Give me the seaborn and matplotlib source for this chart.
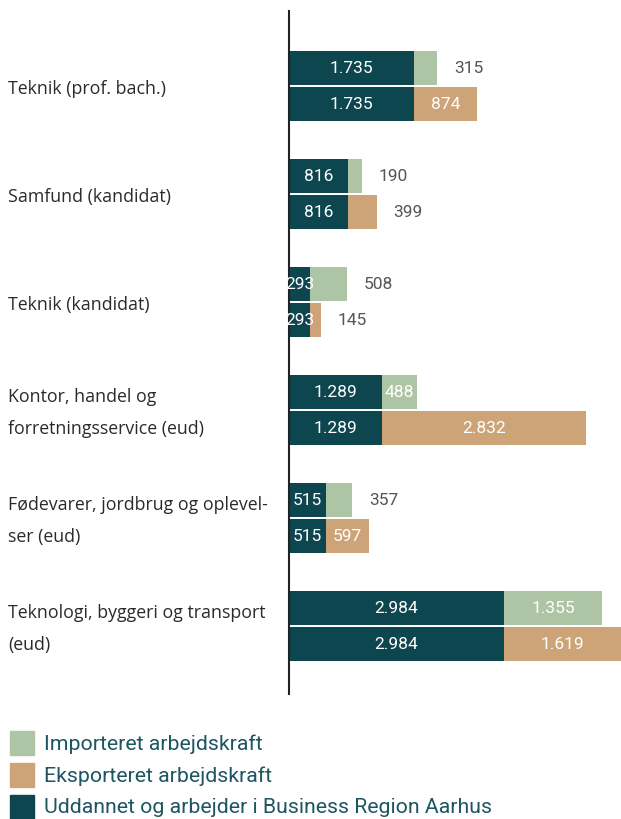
import numpy as np
import pandas as pd
import matplotlib
matplotlib.use("Agg")
import matplotlib.pyplot as plt
import matplotlib.transforms as mtransforms
from matplotlib.patches import Rectangle
import seaborn as sns

# Data
categories = [
    "Teknik (prof. bach.)",
    "Samfund (kandidat)",
    "Teknik (kandidat)",
    "Kontor, handel og\nforretningsservice (eud)",
    "Fødevarer, jordbrug og oplevel-\nser (eud)",
    "Teknologi, byggeri og transport\n(eud)",
]
uddannet = [1735, 816, 293, 1289, 515, 2984]
importeret = [315, 190, 508, 488, 357, 1355]
eksporteret = [874, 399, 145, 2832, 597, 1619]
# label inside the segment or to the right of it
imp_inside = [False, False, False, True, False, True]
eks_inside = [True, False, False, True, True, True]

TEAL = "#0e4650"
GREEN = "#adc5a5"
TAN = "#cda378"
LEGEND_TXT = "#1d5560"
GREY = "#555555"

def fmt(v):
    return f"{v:,}".replace(",", ".")

rows = []
for c, u, i, e in zip(categories, uddannet, importeret, eksporteret):
    rows.append({"kat": c, "serie": "imp", "total": u + i, "base": u})
    rows.append({"kat": c, "serie": "eks", "total": u + e, "base": u})
df = pd.DataFrame(rows)

sns.set_theme(style="white")
plt.rcParams["font.family"] = ["Roboto", "DejaVu Sans"]

fig = plt.figure(figsize=(6.21, 8.2), dpi=100)
ax = fig.add_axes([289 / 621, 1 - 695 / 820, 1 - 289 / 621, (695 - 12) / 820])

bw = 0.667
gp = 0.08
sns.barplot(data=df, y="kat", x="total", hue="serie", palette=[GREEN, TAN],
            order=categories, hue_order=["imp", "eks"], dodge=True,
            width=bw, gap=gp, ax=ax, legend=False, linewidth=0, orient="h",
            saturation=1)
sns.barplot(data=df, y="kat", x="base", hue="serie", palette=[TEAL, TEAL],
            order=categories, hue_order=["imp", "eks"], dodge=True,
            width=bw, gap=gp, ax=ax, legend=False, linewidth=0, orient="h",
            saturation=1)

ax.set_xlim(0, 4605)
ax.set_ylim(5.63, -0.694)
ax.set_xlabel("")
ax.set_ylabel("")
ax.set_xticks([])
ax.set_yticks([])
for s in ["top", "right", "bottom"]:
    ax.spines[s].set_visible(False)
ax.spines["left"].set_color("#222222")
ax.spines["left"].set_linewidth(1.5)

px = 4605 / (621 - 289)  # data units per pixel
fs = 12.5
off = bw / 4
for k in range(len(categories)):
    u = uddannet[k]
    for dy, val, inside in [(-off, importeret[k], imp_inside[k]),
                            (off, eksporteret[k], eks_inside[k])]:
        y = k + dy
        ax.text(u / 2, y, fmt(u), ha="center", va="center", color="white",
                fontsize=fs)
        if inside:
            ax.text(u + val / 2, y, fmt(val), ha="center", va="center",
                    color="white", fontsize=fs)
        else:
            ax.text(u + val + 17 * px, y, fmt(val), ha="left", va="center",
                    color=GREY, fontsize=fs)

# category labels, left aligned
trans = mtransforms.blended_transform_factory(fig.transFigure, ax.transData)
for k, c in enumerate(categories):
    ax.text(8 / 621, k + 0.02, c, transform=trans, ha="left", va="center",
            fontsize=12.8, color="#2a2a2a", linespacing=2.05,
            family=["Open Sans", "DejaVu Sans"])

# legend
leg = [("Importeret arbejdskraft", GREEN),
       ("Eksporteret arbejdskraft", TAN),
       ("Uddannet og arbejder i Business Region Aarhus", TEAL)]
for j, (lab, col) in enumerate(leg):
    yc = 744 + 32 * j
    fig.patches.append(Rectangle((10 / 621, 1 - (yc + 12) / 820), 24 / 621, 24 / 820,
                                 transform=fig.transFigure, color=col))
    fig.text(44 / 621, 1 - yc / 820, lab, ha="left", va="center",
             fontsize=15.3, color=LEGEND_TXT)

fig.savefig("out.png", dpi=100)
